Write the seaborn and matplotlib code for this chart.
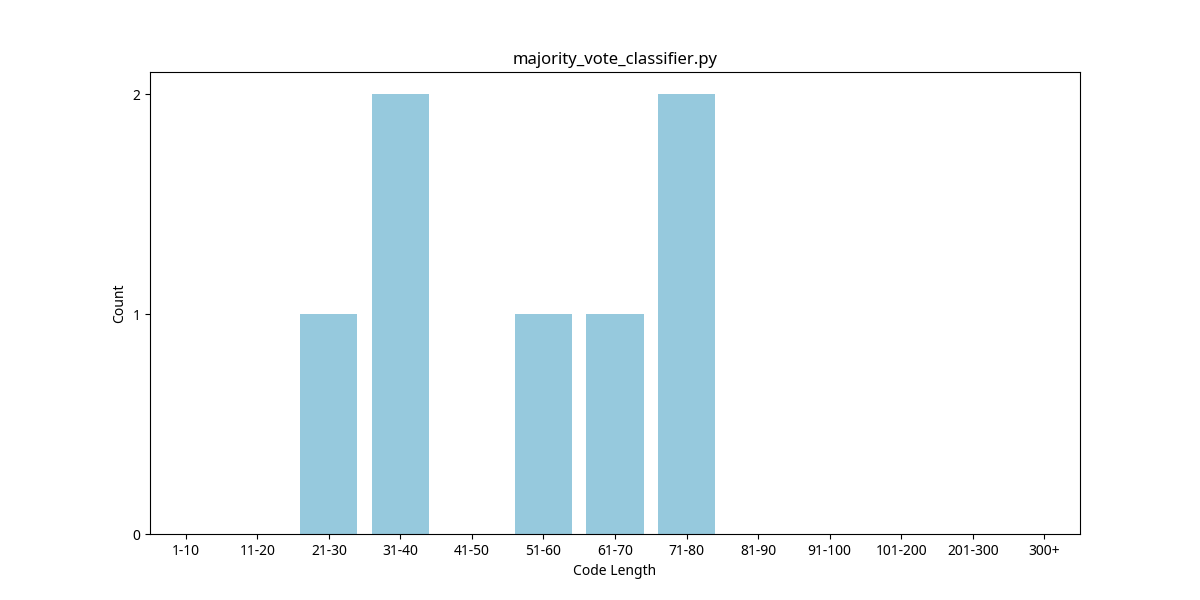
import matplotlib
matplotlib.use("Agg")
import matplotlib.pyplot as plt
import seaborn as sns
import pandas as pd

categories = ["1-10", "11-20", "21-30", "31-40", "41-50", "51-60", "61-70",
              "71-80", "81-90", "91-100", "101-200", "201-300", "300+"]
counts = [0, 0, 1, 2, 0, 1, 1, 2, 0, 0, 0, 0, 0]

plt.rcParams['font.family'] = ['Noto Sans', 'DejaVu Sans']
df = pd.DataFrame({"Code Length": categories, "Count": counts})

fig, ax = plt.subplots(figsize=(12, 6), dpi=100)
sns.barplot(data=df, x="Code Length", y="Count", color="#96c9dd",
            saturation=1, width=0.8, ax=ax)
ax.set_yticks([0, 1, 2])
ax.set_ylim(0, 2.1)
ax.set_xlim(-0.5, 12.5)
ax.set_title("majority_vote_classifier.py")
ax.set_xlabel("Code Length")
ax.set_ylabel("Count")
fig.savefig("out.png")
